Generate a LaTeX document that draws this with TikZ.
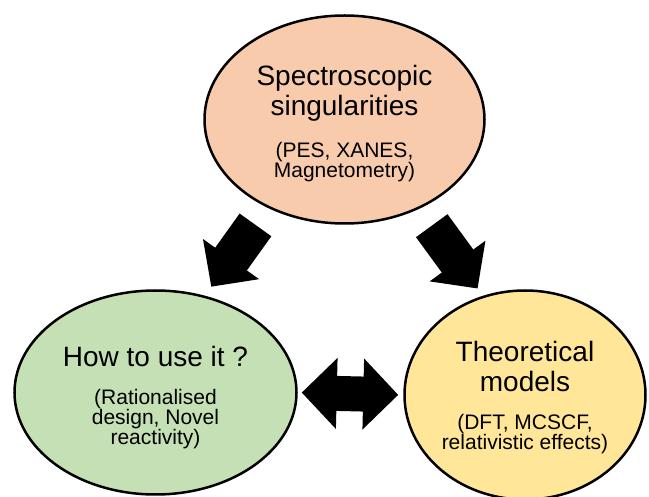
\documentclass[tikz,border=0pt]{standalone}
\usepackage{fontspec}
\setmainfont{Liberation Sans}
\usetikzlibrary{arrows.meta, shapes.geometric}
\definecolor{peach}{HTML}{F8CBAD}
\definecolor{leaf}{HTML}{C5E0B4}
\definecolor{sand}{HTML}{FFE699}
\newcommand{\subtxt}{\fontsize{21}{20}\selectfont}

\tikzset{
  bubble/.style={ellipse, draw, line width=2.5pt, inner sep=0pt, align=center, font=\fontsize{28}{30}\selectfont},
  bigarrow/.style={line width=39pt, -{Triangle[length=34pt, width=67pt]}},
  duoarrow/.style={line width=35pt, {Triangle[length=35pt, width=69pt]}-{Triangle[length=35pt, width=69pt]}}
}

\begin{document}
\begin{tikzpicture}[x=1pt, y=-1pt]
\useasboundingbox (0,0) rectangle (649,497);

% Spectroscopy
\node[bubble, fill=peach, minimum width=280pt, minimum height=208pt] (spec) at (344.5,119.5) {
    \rule{0pt}{29pt}Spectroscopic\\singularities\\[12pt]
    {\subtxt (PES, XANES,}\\[-10pt]
    {\subtxt Magnetometry)}
};

% Use
\node[bubble, fill=leaf, minimum width=282pt, minimum height=204pt] (apply) at (155.5,392.5) {
    \rule{0pt}{29.5pt}How to use it ?\\[8pt]
    {\subtxt (Rationalised}\\[-10pt]
    {\subtxt design, Novel}\\[-10pt]
    {\subtxt reactivity)}
};

% Theory
\node[bubble, fill=sand, minimum width=241pt, minimum height=209pt] (theory) at (525,395) {
    \rule{0pt}{24.5pt}Theoretical\\models\\[8pt]
    {\subtxt (DFT, MCSCF,}\\[-10pt]
    {\subtxt relativistic effects)}
};

% Arrows
\draw[bigarrow, shorten <=21pt, shorten >=11pt] (spec.229) -- (apply.63);
\draw[bigarrow, shorten <=21pt, shorten >=9pt] (spec.310) -- (theory.113);
\draw[duoarrow, shorten <=4pt, shorten >=5pt] (apply.0) -- (theory.180);

\end{tikzpicture}
\end{document}
